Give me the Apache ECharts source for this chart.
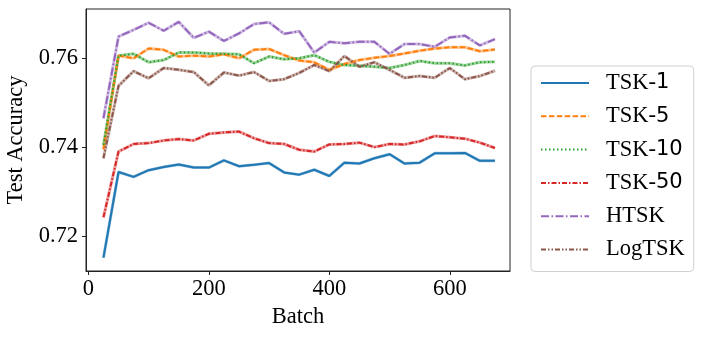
<!DOCTYPE html>
<html>
<head>
<meta charset="utf-8">
<script src="https://cdn.jsdelivr.net/npm/echarts@6/dist/echarts.min.js"></script>
<style>html,body{margin:0;padding:0;background:#fff;}#c{width:706px;height:337px;}</style>
</head>
<body>
<div id="c"></div>
<script>
const batches = [25, 50, 75, 100, 125, 150, 175, 200, 225, 250, 275, 300, 325, 350, 375, 400, 425, 450, 475, 500, 525, 550, 575, 600, 625, 650, 675];
const tsk1 = [0.7151, 0.7344, 0.7333, 0.7348, 0.7355, 0.7361, 0.7354, 0.7354, 0.7370, 0.7357, 0.7360, 0.7364, 0.7343, 0.7338, 0.7349, 0.7335, 0.7365, 0.7363, 0.7375, 0.7384, 0.7363, 0.7365, 0.7386, 0.7386, 0.7387, 0.7369, 0.7369];
const tsk5 = [0.7395, 0.7606, 0.7600, 0.7622, 0.7619, 0.7604, 0.7606, 0.7604, 0.7609, 0.7600, 0.7619, 0.7621, 0.7607, 0.7595, 0.7591, 0.7574, 0.7587, 0.7596, 0.7601, 0.7605, 0.7611, 0.7617, 0.7622, 0.7625, 0.7625, 0.7616, 0.7620];
const tsk10 = [0.7405, 0.7606, 0.7610, 0.7591, 0.7596, 0.7613, 0.7613, 0.7611, 0.7610, 0.7609, 0.7589, 0.7604, 0.7598, 0.7600, 0.7607, 0.7592, 0.7585, 0.7583, 0.7581, 0.7578, 0.7585, 0.7594, 0.7589, 0.7589, 0.7584, 0.7591, 0.7592];
const tsk50 = [0.7242, 0.7390, 0.7407, 0.7409, 0.7415, 0.7418, 0.7415, 0.7430, 0.7433, 0.7435, 0.7420, 0.7409, 0.7407, 0.7394, 0.7390, 0.7406, 0.7407, 0.7410, 0.7400, 0.7407, 0.7406, 0.7413, 0.7425, 0.7422, 0.7419, 0.7410, 0.7398];
const htsk = [0.7465, 0.7649, 0.7664, 0.7680, 0.7662, 0.7682, 0.7646, 0.7660, 0.7639, 0.7656, 0.7677, 0.7681, 0.7655, 0.7661, 0.7613, 0.7637, 0.7634, 0.7637, 0.7637, 0.7610, 0.7632, 0.7632, 0.7626, 0.7647, 0.7651, 0.7629, 0.7643];
const logtsk = [0.7375, 0.7538, 0.7571, 0.7555, 0.7578, 0.7574, 0.7569, 0.7539, 0.7568, 0.7561, 0.7569, 0.7549, 0.7553, 0.7567, 0.7585, 0.7571, 0.7605, 0.7581, 0.7591, 0.7574, 0.7556, 0.7560, 0.7556, 0.7578, 0.7553, 0.7560, 0.7572];
const seriesNames = ['TSK-1', 'TSK-5', 'TSK-10', 'TSK-50', 'HTSK', 'LogTSK'];
const xTicks = [0, 200, 400, 600];
const yTicks = [0.72, 0.74, 0.76];

const seriesValues = [tsk1, tsk5, tsk10, tsk50, htsk, logtsk];
const colors = ['#1f77b4', '#ff7f0e', '#2ca02c', '#d62728', '#9467bd', '#8c564b'];
const dashes = ['solid', [5.5, 2.4], [1.5, 2.5], [5, 2, 1.5, 2], [8, 2.5, 1.5, 2.5], [5, 2, 1.5, 2, 1.5, 2]];
const serif = '"Liberation Serif", "DejaVu Serif", serif';

const series = [];
seriesValues.forEach((vals, i) => {
  const data = batches.map((b, j) => [b, vals[j]]);
  series.push({
    name: seriesNames[i] + ' band', type: 'line', data: data, symbol: 'none',
    lineStyle: {color: colors[i], width: 3, opacity: 0.45, type: 'solid'},
    itemStyle: {color: colors[i]}, z: 2, silent: true
  });
});
seriesValues.forEach((vals, i) => {
  const data = batches.map((b, j) => [b, vals[j]]);
  series.push({
    name: seriesNames[i], type: 'line', data: data, symbol: 'none', showSymbol: false,
    lineStyle: {color: colors[i], width: 2, type: dashes[i]},
    itemStyle: {color: colors[i]}, z: 3
  });
});

const chart = echarts.init(document.getElementById('c'), null, {renderer: 'canvas'});
chart.setOption({
  animation: false,
  backgroundColor: '#fff',
  grid: {left: 86, right: 196, top: 9, bottom: 66, show: true, borderColor: '#222', borderWidth: 1,
    backgroundColor: 'transparent', containLabel: false, outerBoundsMode: 'none'},
  xAxis: {
    type: 'value', min: -4, max: 700,
    name: 'Batch', nameLocation: 'middle', nameGap: 32,
    nameTextStyle: {fontFamily: serif, fontSize: 22.5, color: '#000'},
    axisLine: {show: true, onZero: false, lineStyle: {color: '#222', width: 1}},
    axisTick: {show: true, length: 4, lineStyle: {color: '#222'}, customValues: xTicks},
    axisLabel: {fontFamily: serif, fontSize: 22.5, color: '#000', margin: 7, customValues: xTicks},
    splitLine: {show: false}
  },
  yAxis: {
    type: 'value', min: 0.7121, max: 0.7711,
    name: 'Test Accuracy', nameLocation: 'middle', nameGap: 54,
    nameTextStyle: {fontFamily: serif, fontSize: 22.5, color: '#000'},
    axisLine: {show: true, onZero: false, lineStyle: {color: '#222', width: 1}},
    axisTick: {show: true, length: 4, lineStyle: {color: '#222'}, customValues: yTicks},
    axisLabel: {fontFamily: serif, fontSize: 22.5, color: '#000', margin: 8, customValues: yTicks,
      formatter: v => v.toFixed(2)},
    splitLine: {show: false}
  },
  legend: {
    data: seriesNames,
    orient: 'vertical', left: 531, top: 66,
    padding: [5, 9, 10, 9],
    itemWidth: 48, itemHeight: 14, itemGap: 9.3,
    itemStyle: {opacity: 0},
    borderColor: '#d0d0d0', borderWidth: 1, borderRadius: 4, backgroundColor: '#fff',
    formatter: name => name.replace(/^TSK-(\d+)$/, 'TSK-{d|$1}'),
    textStyle: {fontFamily: serif, fontSize: 22.5, color: '#000', lineHeight: 24, padding: [0, 0, 0, 12],
      rich: {d: {fontFamily: '"DejaVu Sans", sans-serif', fontSize: 21, color: '#000', lineHeight: 24}}}
  },
  series: series
});
</script>
</body>
</html>
